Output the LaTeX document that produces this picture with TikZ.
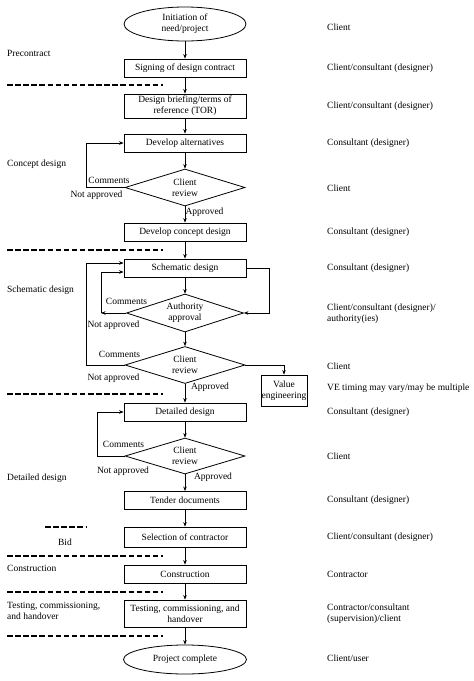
\documentclass[tikz,border=0pt]{standalone}
\usepackage{fontspec}
\setmainfont{Liberation Serif}
\usetikzlibrary{shapes.geometric,arrows.meta,calc}
\begin{document}
\begin{tikzpicture}[x=1pt,y=-1pt,
  font=\fontsize{9.5}{11}\selectfont,
  box/.style={draw, line width=0.9pt, minimum width=122pt, minimum height=18pt, inner sep=1pt, align=center},
  ell/.style={draw, ellipse, line width=0.8pt, minimum width=122pt, minimum height=34pt, inner sep=0pt, align=center},
  dia/.style={draw, diamond, line width=0.8pt, aspect=3.2, minimum width=120pt, minimum height=37pt, inner sep=0pt, align=center},
  arr/.style={draw, line width=0.6pt, -{Stealth[length=4.5pt,width=3.5pt]}},
  sep/.style={line width=1.4pt, dash pattern=on 5.5pt off 2.6pt},
  lbl/.style={anchor=west, inner sep=0pt, align=left},
  role/.style={anchor=west, inner sep=0pt, align=left}]
\useasboundingbox (0,0) rectangle (474,681);

% main column
\node[ell] (init) at (185,24) {Initiation of\\need/project};
\node[box] (sign) at (185,68) {Signing of design contract};
\node[box, minimum height=24pt] (brief) at (185,106) {Design briefing/terms of\\reference (TOR)};
\node[box] (alt) at (185,143) {Develop alternatives};
\node[dia] (cr1) at (185,187.5) {Client\\review};
\node[box] (concept) at (185,232) {Develop concept design};
\node[box] (schem) at (185,268) {Schematic design};
\node[dia, minimum width=117pt, minimum height=38pt] (auth) at (185,313) {Authority\\approval};
\node[dia] (cr2) at (185,365) {Client\\review};
\node[box, minimum width=46pt, minimum height=31pt, line width=0.8pt, inner sep=0pt] (ve) at (284,390.5) {Value\\engineering};
\node[box] (detail) at (185,412) {Detailed design};
\node[dia, minimum height=36pt] (cr3) at (185,456) {Client\\review};
\node[box] (tender) at (185,500.5) {Tender documents};
\node[box, minimum height=20pt] (select) at (185,537) {Selection of contractor};
\node[box] (constr) at (185,574) {Construction};
\node[box, minimum height=27pt] (test) at (185,613.5) {Testing, commissioning, and\\handover};
\node[ell, minimum width=123pt, minimum height=29pt] (done) at (185,659.5) {Project complete};

% loop coordinates
\coordinate (l1) at (86,0);
\coordinate (l2) at (101,0);
\coordinate (l3) at (97,0);
\coordinate (r1) at (269,0);

% straight connectors
\draw[arr] (init) -- (sign);
\draw[arr] (sign) -- (brief);
\draw[arr] (brief) -- (alt);
\draw[arr] (alt) -- (cr1);
\draw[arr] (cr1) -- (concept);
\draw[arr] (concept) -- (schem);
\draw[arr] (schem) -- (auth);
\draw[arr] (auth) -- (cr2);
\draw[arr] (cr2) -- (detail);
\draw[arr] (detail) -- (cr3);
\draw[arr] (cr3) -- (tender);
\draw[arr] (tender) -- (select);
\draw[arr] (select) -- (constr);
\draw[arr] (constr) -- (test);
\draw[arr] (test) -- (done);

% loops
\draw[arr] (cr1.west) -- (cr1.west -| l1) |- (alt.west);
\draw[arr] (schem.east) -- (schem.east -| r1) |- (auth.east);
\draw[arr] (auth.west) -- (auth.west -| l2);
\draw[arr] (auth.west -| l2) |- ($(schem.west)+(0,4)$);
\draw[arr] (cr2.west) -- (cr2.west -| l1) |- ($(schem.west)+(0,-5)$);
\draw[arr] (cr2.east) -| (ve.north);
\draw[arr] (cr3.west) -- (cr3.west -| l3) |- (detail.west);

% loop labels
\node (c1) at (109,180) {Comments};
\node (n1) at (96.5,195) {Not approved};
\node (a1) at (204.5,212) {Approved};
\node (c2) at (126.5,301) {Comments};
\node (n2) at (113.5,325) {Not approved};
\node (c3) at (119.5,354) {Comments};
\node (n3) at (113.5,378) {Not approved};
\node (a3) at (210,387) {Approved};
\node (c4) at (123.5,444) {Comments};
\node (n4) at (123,471) {Not approved};
\node (a4) at (213,477) {Approved};

% phase separators
\draw[sep] (7,85) -- (163,85);
\draw[sep] (7,250) -- (163,250);
\draw[sep] (7,394) -- (163,394);
\draw[sep] (45,527) -- (86,527);
\draw[sep] (7,556) -- (163,556);
\draw[sep] (7,592) -- (163,592);
\draw[sep] (7,636) -- (163,636);

% phase labels
\node[lbl] (p1) at (7,53) {Precontract};
\node[lbl] (p2) at (7,164) {Concept design};
\node[lbl] (p3) at (7,290) {Schematic design};
\node[lbl] (p4) at (7,478) {Detailed design};
\node (p5) at (65,542) {Bid};
\node[lbl] (p6) at (7,568) {Construction};
\node[lbl] (p7) at (7,610.5) {Testing, commissioning,\\and handover};

% roles
\node[role] (r01) at (327,27) {Client};
\node[role] (r02) at (327,68) {Client/consultant (designer)};
\node[role] (r03) at (327,106) {Client/consultant (designer)};
\node[role] (r04) at (327,143) {Consultant (designer)};
\node[role] (r05) at (327,188) {Client};
\node[role] (r06) at (327,232) {Consultant (designer)};
\node[role] (r07) at (327,268) {Consultant (designer)};
\node[role] (r08) at (327,313.5) {Client/consultant (designer)/\\authority(ies)};
\node[role] (r09) at (327,366) {Client};
\node[role] (r10) at (327,388) {VE timing may vary/may be multiple};
\node[role] (r11) at (327,412) {Consultant (designer)};
\node[role] (r12) at (327,456) {Client};
\node[role] (r13) at (327,500) {Consultant (designer)};
\node[role] (r14) at (327,537) {Client/consultant (designer)};
\node[role] (r15) at (327,574) {Contractor};
\node[role] (r16) at (327,613.5) {Contractor/consultant\\(supervision)/client};
\node[role] (r17) at (327,658) {Client/user};
\end{tikzpicture}
\end{document}
